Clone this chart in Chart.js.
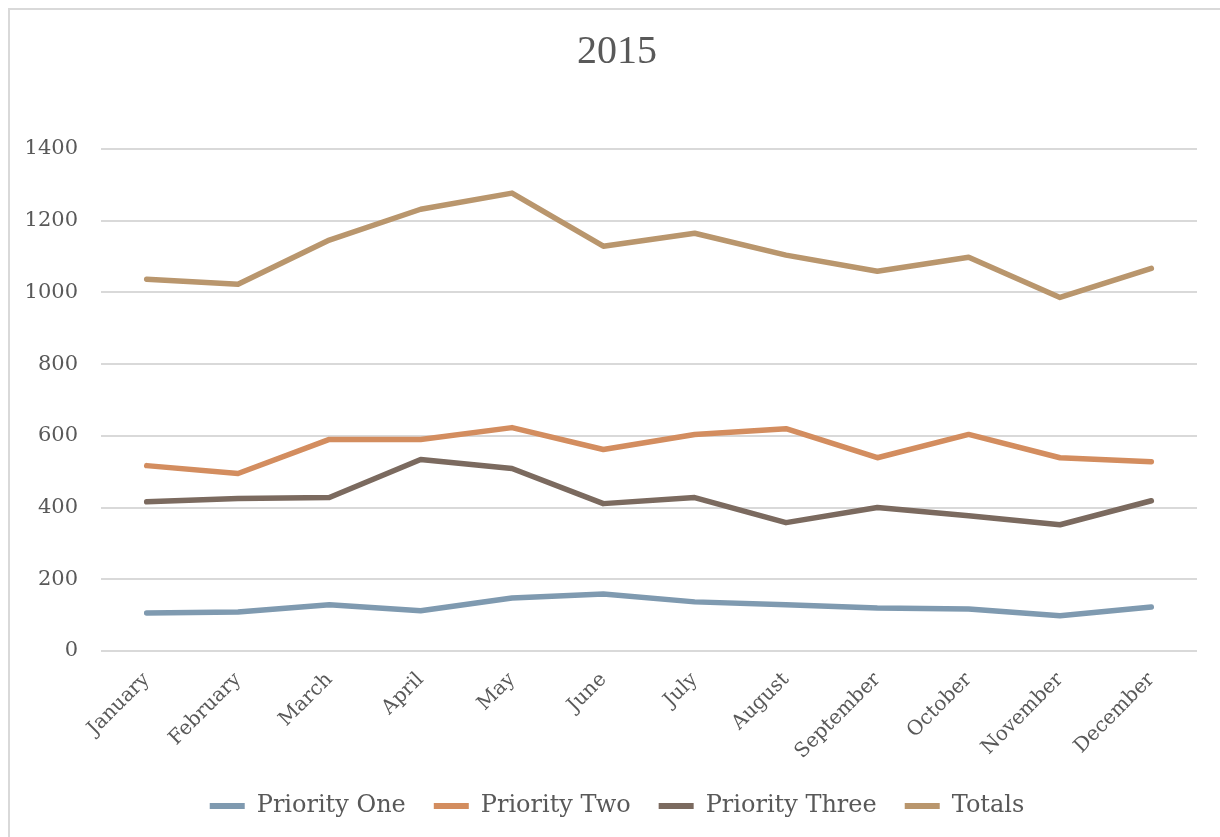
<!DOCTYPE html>
<html>
<head>
<meta charset="utf-8">
<script src="https://cdn.jsdelivr.net/npm/chart.js@4.4.0/dist/chart.umd.min.js"></script>
<style>
  html, body { margin: 0; padding: 0; background: #fff; overflow: hidden; width: 1220px; height: 837px; }
  #frame { position: absolute; left: 8px; top: 8px; width: 2000px; height: 2000px; border: 2px solid #d9d9d9; box-sizing: border-box; }
  #c { position: absolute; left: 0; top: 0; }
</style>
</head>
<body>
<div id="frame"></div>
<canvas id="c" width="1220" height="837"></canvas>
<script>
const months = ["January","February","March","April","May","June","July","August","September","October","November","December"];
const priorityOne   = [106, 109, 129, 112, 148, 159, 137, 129, 120, 117, 98, 123];
const priorityTwo   = [517, 495, 590, 590, 623, 562, 604, 620, 539, 604, 539, 528];
const priorityThree = [416, 425, 428, 534, 509, 411, 428, 358, 400, 377, 352, 419];
const totals        = [1037, 1023, 1146, 1232, 1277, 1129, 1165, 1104, 1059, 1098, 986, 1067];
const seriesNames   = ["Priority One", "Priority Two", "Priority Three", "Totals"];
const yTicks        = [0, 200, 400, 600, 800, 1000, 1200, 1400];

const colors = ["#7f9ab0", "#d38d5f", "#7b6a5f", "#b9966d"];
const seriesData = [priorityOne, priorityTwo, priorityThree, totals];
const textColor = "#595959";

const datasets = seriesNames.map((name, i) => ({
  label: name,
  data: seriesData[i],
  borderColor: colors[i],
  backgroundColor: colors[i],
  borderWidth: 5.5,
  borderCapStyle: "round",
  borderJoinStyle: "round",
  pointRadius: 0,
  pointHoverRadius: 0,
  tension: 0,
  fill: false
}));

// let the y-axis labels extend into the left padding instead of being clipped
const unclipYLabels = {
  id: "unclipYLabels",
  afterLayout(chart) { chart.scales.y.left = 0; }
};

new Chart(document.getElementById("c"), {
  type: "line",
  data: { labels: months, datasets },
  plugins: [unclipYLabels],
  options: {
    responsive: false,
    animation: false,
    devicePixelRatio: 1,
    layout: { padding: { left: 37, right: 23, top: 0, bottom: 9 } },
    plugins: {
      title: {
        display: true,
        text: "2015",
        color: textColor,
        font: { family: "'Liberation Serif', serif", size: 40, weight: "normal" },
        padding: { top: 28, bottom: 73 }
      },
      legend: {
        display: true,
        position: "bottom",
        labels: {
          color: textColor,
          font: { family: "'DejaVu Serif', serif", size: 24 },
          boxWidth: 35,
          boxHeight: 6,
          padding: 28,
          useBorderRadius: true,
          borderRadius: 3,
          generateLabels: (chart) => chart.data.datasets.map((ds, i) => ({
            text: ds.label,
            fillStyle: ds.borderColor,
            strokeStyle: ds.borderColor,
            lineWidth: 0,
            fontColor: textColor,
            hidden: false,
            datasetIndex: i
          }))
        }
      },
      tooltip: { enabled: false }
    },
    scales: {
      x: {
        offset: true,
        grid: { display: false, drawTicks: false },
        border: { display: false },
        ticks: {
          color: textColor,
          font: { family: "'DejaVu Serif', serif", size: 20 },
          minRotation: 45,
          maxRotation: 45,
          padding: 17,
          autoSkip: false
        },
        afterFit: (s) => { s.height = 115; }
      },
      y: {
        min: 0,
        max: 1400,
        afterBuildTicks: (s) => { s.ticks = yTicks.map(v => ({ value: v })); },
        grid: { color: "#d9d9d9", lineWidth: 2, drawTicks: false },
        border: { display: false },
        ticks: {
          color: textColor,
          font: { family: "'DejaVu Serif', serif", size: 21 },
          padding: 23,
          callback: (v) => String(v)
        },
        afterFit: (s) => { s.width = 64; }
      }
    }
  }
});
</script>
</body>
</html>
